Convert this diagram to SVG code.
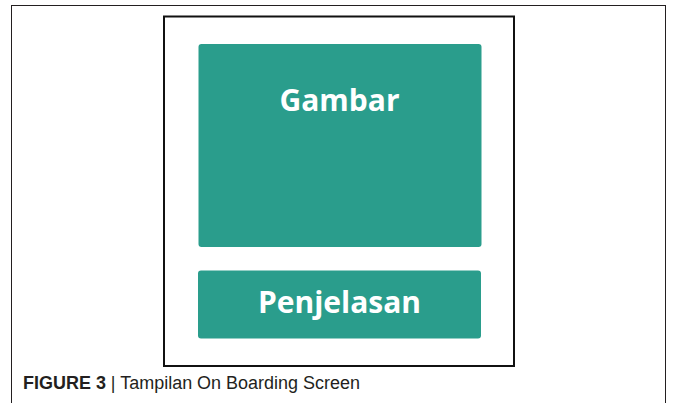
<svg xmlns="http://www.w3.org/2000/svg" width="673" height="403" viewBox="0 0 673 403">
<style>
.box{fill:#2a9d8c}
.lbl{font-family:"Open Sans","DejaVu Sans",sans-serif;font-weight:700;font-size:30px;fill:#ffffff;text-anchor:middle}
.cap{font-family:"Liberation Sans",Arial,sans-serif;font-size:18px;fill:#231f20}
</style>
<rect width="673" height="403" fill="#ffffff"/>
<rect x="11.5" y="5.5" width="654" height="410" fill="none" stroke="#231f20" stroke-width="1"/>
<rect x="164" y="16.5" width="350" height="349.5" fill="#ffffff" stroke="#111111" stroke-width="2"/>
<g id="gambar">
<rect class="box" x="198.5" y="44" width="283" height="203" rx="3"/>
<text class="lbl" x="339.5" y="111">Gambar</text>
</g>
<g id="penjelasan">
<rect class="box" x="198" y="270.5" width="283" height="68" rx="3"/>
<text class="lbl" x="339.5" y="313">Penjelasan</text>
</g>
<g id="connectors"/>
<text class="cap" x="23" y="389" textLength="337" lengthAdjust="spacingAndGlyphs"><tspan font-weight="700">FIGURE 3</tspan> | Tampilan On Boarding Screen</text>
</svg>
